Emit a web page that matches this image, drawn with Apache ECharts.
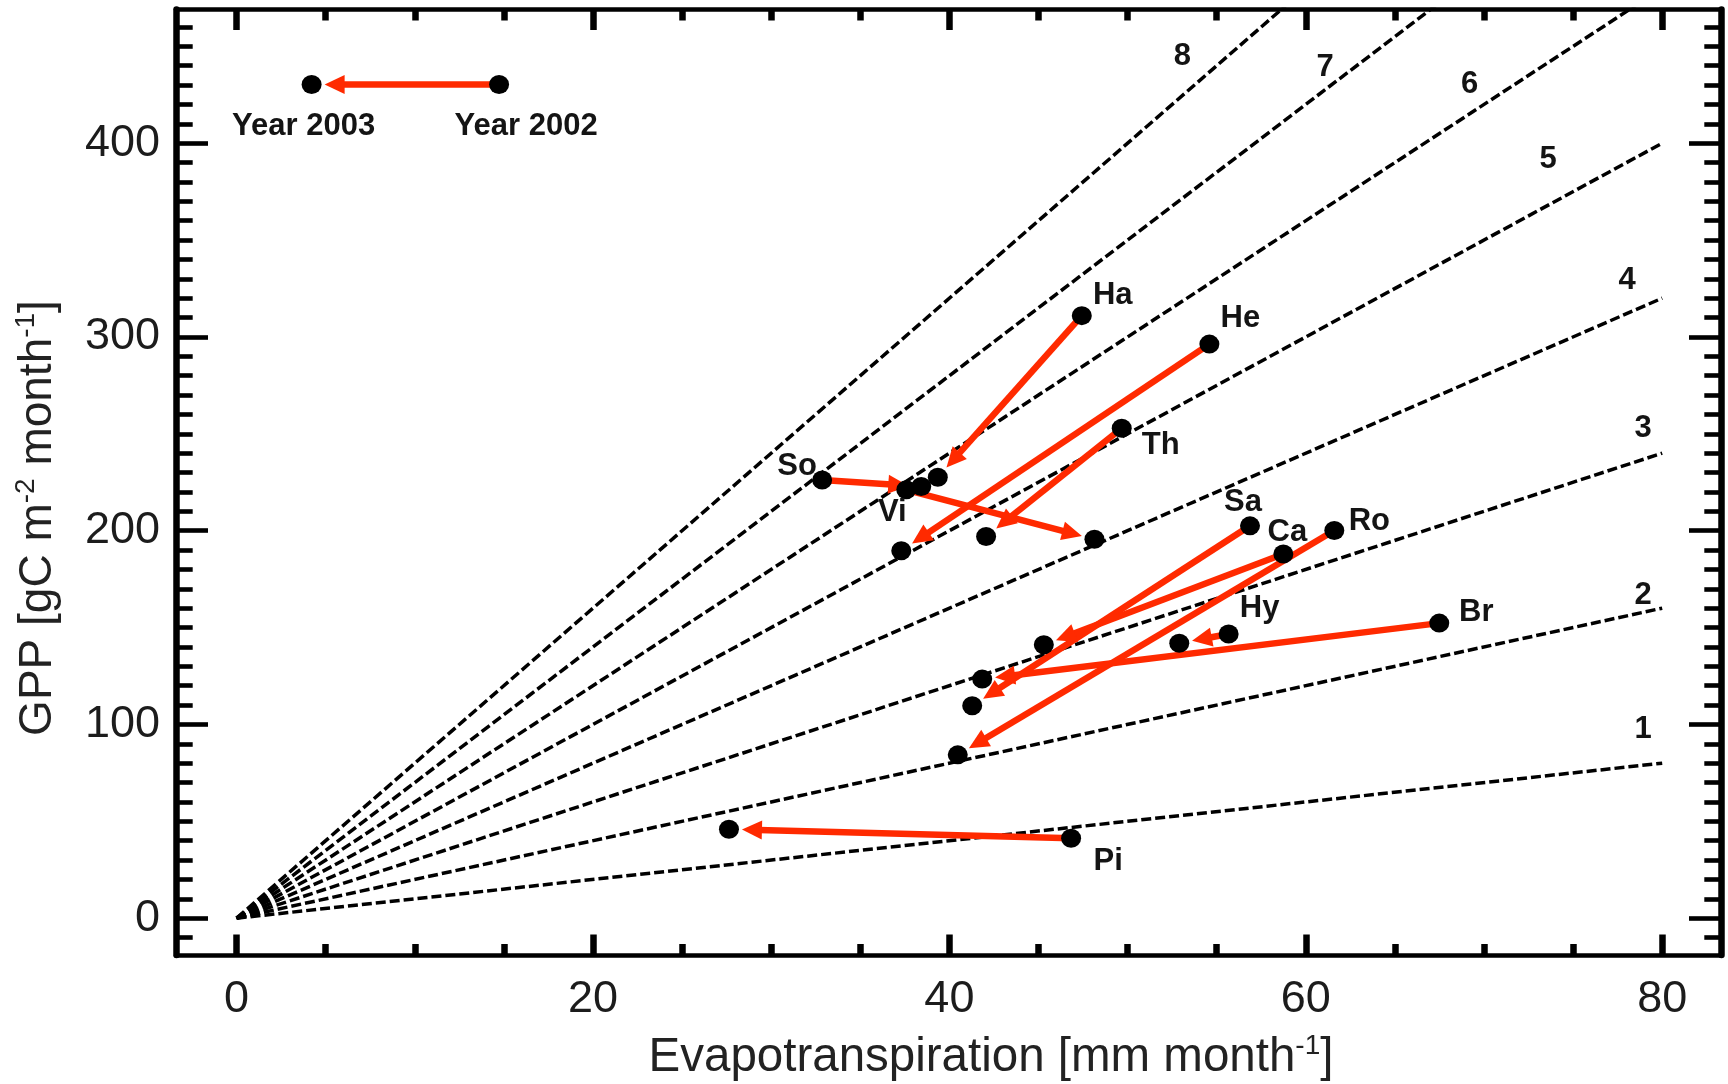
<!DOCTYPE html>
<html><head><meta charset="utf-8">
<script src="https://cdn.jsdelivr.net/npm/echarts@6/dist/echarts.min.js"></script>
<style>html,body{margin:0;padding:0;background:#fff}#c{width:1728px;height:1084px}</style>
</head><body><div id="c"></div>
<script>
// ---------------- data ----------------
const sites   = ['Ha', 'He', 'Th', 'So', 'Vi', 'Sa', 'Ca', 'Ro', 'Hy', 'Br', 'Pi'];
const et2002  = [47.43, 54.59, 49.67, 32.86, 37.58, 56.87, 58.74, 61.60, 55.67, 67.49, 46.83];
const gpp2002 = [311.0, 296.3, 252.9, 226.2, 221.1, 202.5, 188.0, 200.1, 146.7, 152.3, 41.3];
const et2003  = [39.35, 37.30, 42.06, 38.42, 48.14, 41.28, 45.30, 40.47, 52.90, 41.84, 27.63];
const gpp2003 = [227.6, 189.6, 197.0, 222.8, 195.6, 109.6, 141.1, 84.3, 141.9, 123.4, 45.9];

// water-use-efficiency reference lines GPP = k * ET
const ratios = [1, 2, 3, 4, 5, 6, 7, 8];
const ratioEtEnd = 80;
const ratioLabelEt  = [78.93, 78.93, 78.93, 78.03, 73.6, 69.2, 61.09, 53.07];
const ratioLabelGpp = [97.2, 166.8, 252.9, 329.4, 391.4, 430.1, 438.9, 444.7];

// legend sample (Year 2002 -> Year 2003)
const legendYears = ['Year 2002', 'Year 2003'];
const legendEt  = [14.73, 4.21];
const legendGpp = [430.3, 430.3];

// axes
const xMajorTicks = [0, 20, 40, 60, 80];
const xMinorTicks = [5, 10, 15, 25, 30, 35, 45, 50, 55, 65, 70, 75];
const yMajorTicks = [0, 100, 200, 300, 400];
const yMinorTicks = [-10, 10, 20, 30, 40, 50, 60, 70, 80, 90, 110, 120, 130, 140, 150, 160, 170, 180, 190,
  210, 220, 230, 240, 250, 260, 270, 280, 290, 310, 320, 330, 340, 350, 360, 370, 380, 390,
  410, 420, 430, 440, 450, 460];
const xTitle = 'Evapotranspiration [mm month';
const yTitle = ['GPP [gC m', ' month'];

// ---------------- styles ----------------
const FONT = '"Liberation Sans", Arial, Helvetica, sans-serif';
const RED = '#ff2a00';
const INK = '#141414';
const X_MIN = -3.4, X_MAX = 83.3, Y_MIN = -19, Y_MAX = 469;
const labelOffset = {
  Ha: [31, -20], He: [31, -26], Th: [39, 17], So: [-25, -13], Vi: [-14, 23],
  Sa: [-7, -23], Ca: [4, -21], Ro: [35, -9], Hy: [31, -26], Br: [37, -11], Pi: [37, 23]
};
const legendLabelOffset = [[27, 42], [-8, 42]];

function xAx(pos, ticks, len, labels, lineShow) {
  return {
    type: 'value', position: pos, min: X_MIN, max: X_MAX, gridIndex: 0,
    axisLine: { show: lineShow, onZero: false, lineStyle: { color: '#000', width: 4.6 } },
    axisTick: { show: true, inside: true, length: len, customValues: ticks, lineStyle: { color: '#000', width: 6.5 } },
    axisLabel: { show: labels, customValues: ticks, margin: 22, fontSize: 45, fontFamily: FONT, color: '#1c1c1c' },
    splitLine: { show: false }, minorTick: { show: false }
  };
}
function yAx(pos, ticks, len, labels, lineShow) {
  return {
    type: 'value', position: pos, min: Y_MIN, max: Y_MAX, gridIndex: 0,
    axisLine: { show: lineShow, onZero: false, lineStyle: { color: '#000', width: 6.5 } },
    axisTick: { show: true, inside: true, length: len, customValues: ticks, lineStyle: { color: '#000', width: 4.6 } },
    axisLabel: { show: labels, customValues: ticks, margin: 16, fontSize: 45, fontFamily: FONT, color: '#1c1c1c' },
    splitLine: { show: false }, minorTick: { show: false }
  };
}

const arrowData = sites.map((s, i) => [et2002[i], gpp2002[i], et2003[i], gpp2003[i]]);
arrowData.push([legendEt[0], legendGpp[0], legendEt[1], legendGpp[1]]);

function renderArrow(params, api) {
  const p0 = api.coord([api.value(0), api.value(1)]);
  const p1 = api.coord([api.value(2), api.value(3)]);
  const dx = p1[0] - p0[0], dy = p1[1] - p0[1];
  const len = Math.hypot(dx, dy);
  const ux = dx / len, uy = dy / len, nx = -uy, ny = ux;
  const tipGap = 13, headLen = 20, headHalf = 9.5;
  const tip = [p1[0] - ux * tipGap, p1[1] - uy * tipGap];
  const base = [tip[0] - ux * headLen, tip[1] - uy * headLen];
  return {
    type: 'group',
    children: [
      { type: 'line', shape: { x1: p0[0], y1: p0[1], x2: base[0] + ux * 3, y2: base[1] + uy * 3 },
        style: { stroke: RED, lineWidth: 6.5 } },
      { type: 'polygon', shape: { points: [tip,
          [base[0] + nx * headHalf, base[1] + ny * headHalf],
          [base[0] - nx * headHalf, base[1] - ny * headHalf]] },
        style: { fill: RED } }
    ]
  };
}

function renderRatioLabel(params, api) {
  const p = api.coord([api.value(0), api.value(1)]);
  return {
    type: 'text', x: p[0], y: p[1],
    style: { text: String(api.value(2)), fontSize: 31, fontWeight: 'bold', fontFamily: FONT,
      fill: INK, align: 'center', verticalAlign: 'middle' }
  };
}

const series = [];
ratios.forEach(k => series.push({
  type: 'line', xAxisIndex: 0, yAxisIndex: 0, data: [[0, 0], [ratioEtEnd, k * ratioEtEnd]],
  symbol: 'none', silent: true, clip: true, z: 1,
  lineStyle: { color: '#000', width: 3.5, type: [10, 4], opacity: 1 }
}));
series.push({
  type: 'custom', xAxisIndex: 0, yAxisIndex: 0, renderItem: renderRatioLabel, z: 2, silent: true,
  data: ratios.map((k, i) => [ratioLabelEt[i], ratioLabelGpp[i], k])
});
series.push({
  type: 'custom', xAxisIndex: 0, yAxisIndex: 0, renderItem: renderArrow, z: 3, silent: true,
  encode: { x: [0, 2], y: [1, 3] }, data: arrowData
});
const labelBase = { show: true, position: 'inside', fontSize: 31, fontWeight: 'bold', fontFamily: FONT,
  color: INK, opacity: 1, align: 'center', verticalAlign: 'middle' };
const dotStyle = { color: '#000', opacity: 1 };
series.push({
  type: 'scatter', xAxisIndex: 0, yAxisIndex: 0, symbol: 'circle', symbolSize: [20, 19], z: 4, silent: true,
  itemStyle: dotStyle,
  label: Object.assign({ formatter: '{b}' }, labelBase),
  data: sites.map((s, i) => ({ name: s, value: [et2002[i], gpp2002[i]], label: { offset: labelOffset[s] } }))
});
series.push({
  type: 'scatter', xAxisIndex: 0, yAxisIndex: 0, symbol: 'circle', symbolSize: [20, 19], z: 4, silent: true,
  itemStyle: dotStyle,
  data: sites.map((s, i) => [et2003[i], gpp2003[i]])
});
series.push({
  type: 'scatter', xAxisIndex: 0, yAxisIndex: 0, symbol: 'circle', symbolSize: [20, 19], z: 4, silent: true,
  itemStyle: dotStyle,
  label: Object.assign({ formatter: '{b}' }, labelBase),
  data: legendYears.map((y, i) => ({ name: y, value: [legendEt[i], legendGpp[i]], label: { offset: legendLabelOffset[i] } }))
});

const xTitleRich = {
  a: { fontSize: 47.5, fontFamily: FONT, fill: '#222', lineHeight: 52 },
  s: { fontSize: 28, fontFamily: FONT, fill: '#222', lineHeight: 30, verticalAlign: 'top' }
};
const yTitleRich = {
  a: { fontSize: 46, fontFamily: FONT, fill: '#222', lineHeight: 52 },
  s: { fontSize: 28, fontFamily: FONT, fill: '#222', lineHeight: 30, verticalAlign: 'top' }
};

const chart = echarts.init(document.getElementById('c'), null, { renderer: 'canvas' });
chart.setOption({
  backgroundColor: '#fff',
  animation: false,
  grid: { left: 176, right: 7, top: 9.5, bottom: 129, containLabel: false, outerBoundsMode: 'none' },
  xAxis: [
    xAx('bottom', xMajorTicks, 20.5, true, true),
    xAx('bottom', xMinorTicks, 11, false, false),
    xAx('top', xMajorTicks, 20.5, false, true),
    xAx('top', xMinorTicks, 11, false, false)
  ],
  yAxis: [
    yAx('left', yMajorTicks, 32, true, true),
    yAx('left', yMinorTicks, 16.7, false, false),
    yAx('right', yMajorTicks, 32, false, true),
    yAx('right', yMinorTicks, 16.7, false, false)
  ],
  graphic: [
    { type: 'text', x: 991, y: 1058, silent: true,
      style: { text: '{a|' + xTitle + '}{s|-1}{a|]}', rich: xTitleRich, align: 'center', verticalAlign: 'middle' } },
    { type: 'text', x: 38.6, y: 518, rotation: Math.PI / 2, silent: true,
      style: { text: '{a|' + yTitle[0] + '}{s|-2}{a|' + yTitle[1] + '}{s|-1}{a|]}', rich: yTitleRich, align: 'center', verticalAlign: 'middle' } }
  ],
  series: series
});
</script></body></html>
